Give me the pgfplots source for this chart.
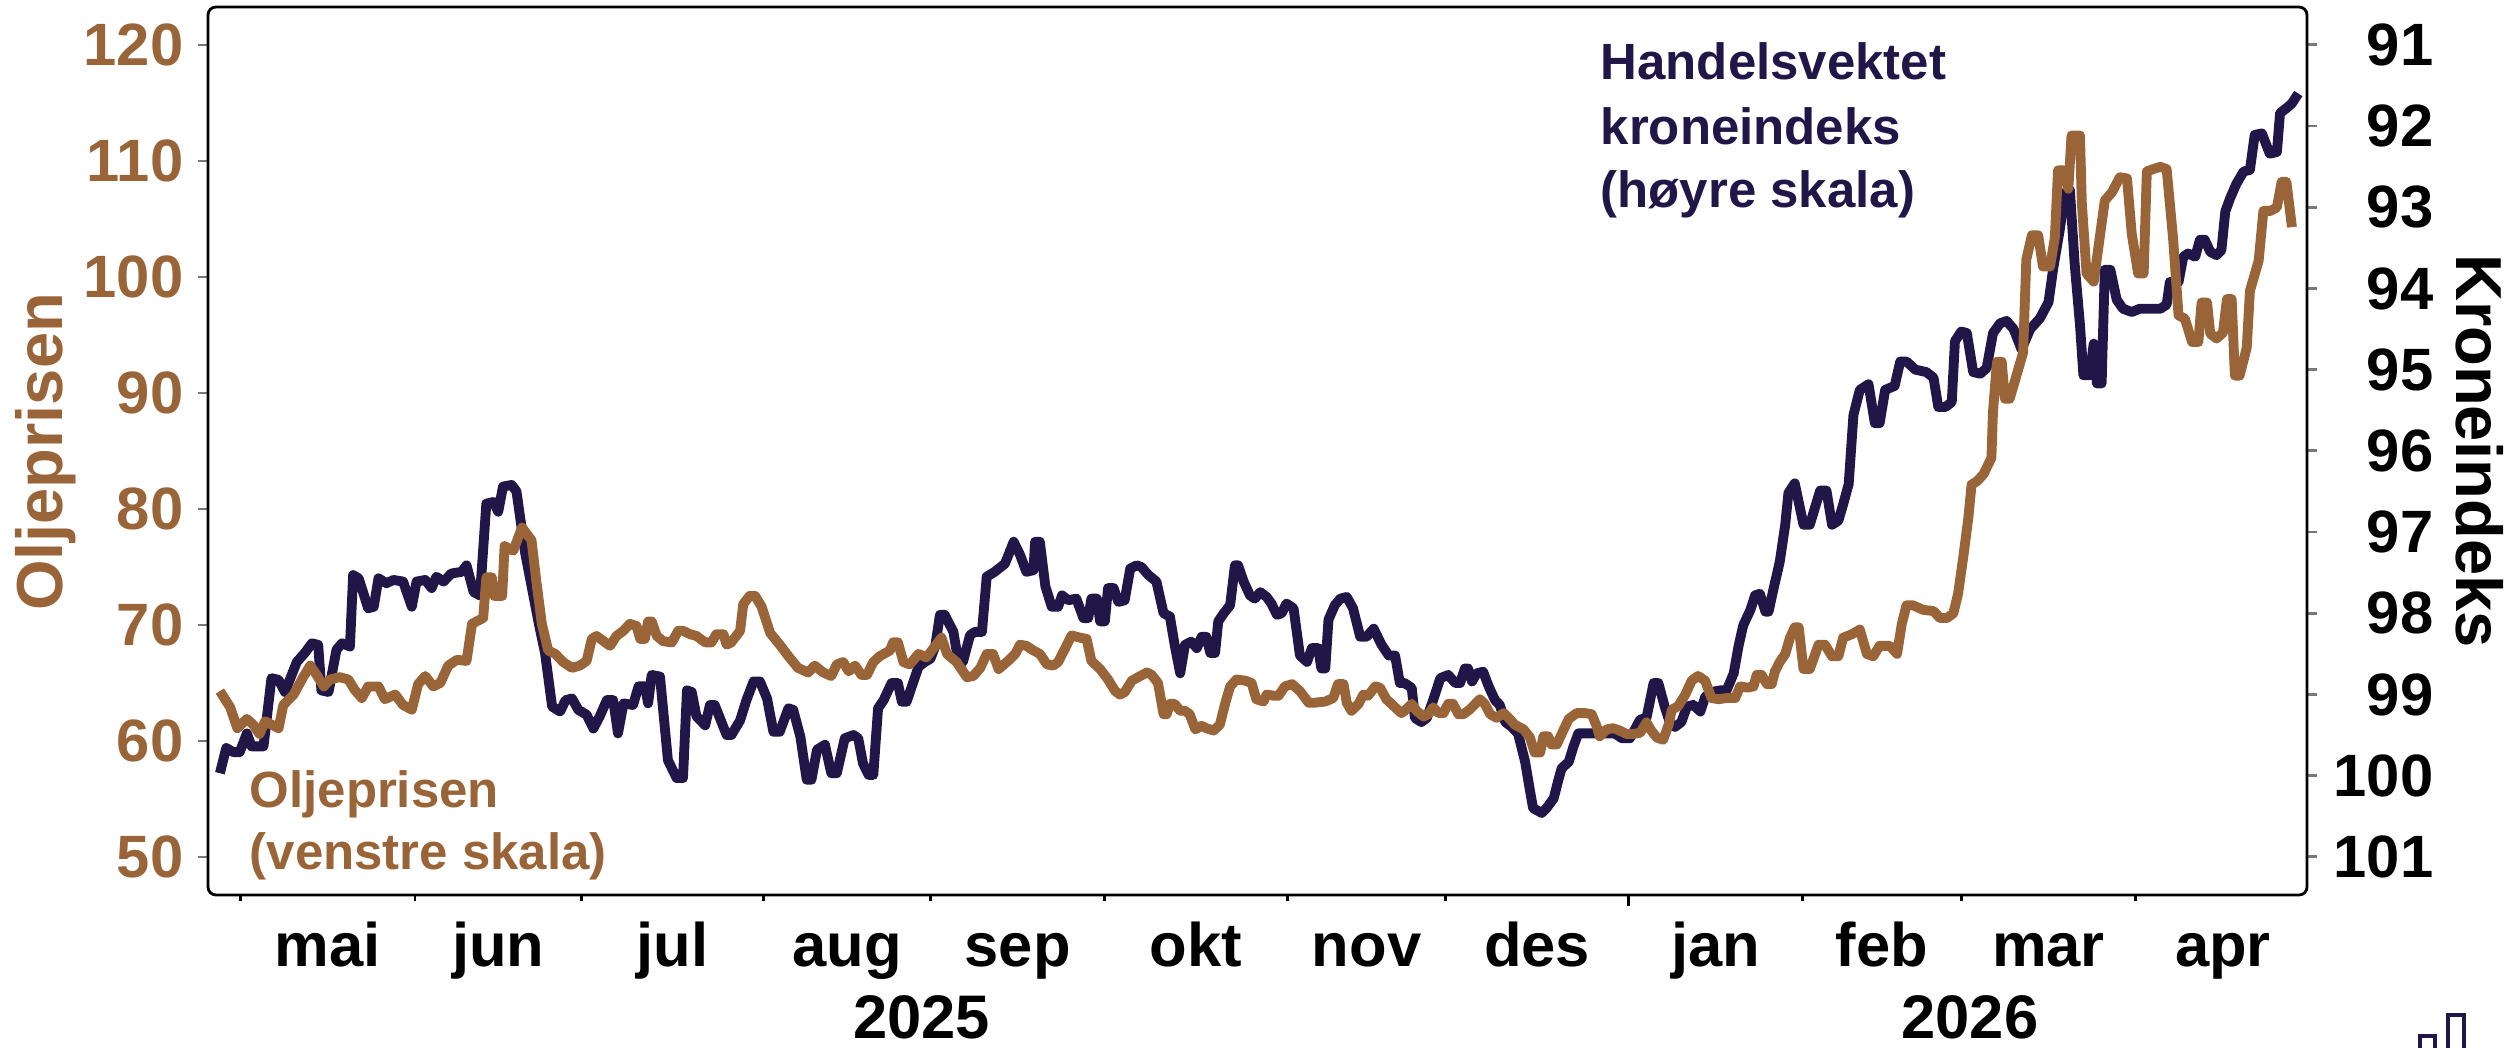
\documentclass[border=0pt]{standalone}
\usepackage{fontspec}
\setmainfont{Liberation Sans}
\usepackage{pgfplots}
\pgfplotsset{compat=1.18}
\definecolor{oil}{RGB}{153,101,56}
\definecolor{navy}{RGB}{32,22,72}
\definecolor{tickgray}{RGB}{120,120,120}
\newcommand{\tickfont}{\fontsize{17}{20}\selectfont\bfseries}
\newcommand{\monfont}{\fontsize{17.5}{21}\selectfont\bfseries}
\newcommand{\labfont}{\fontsize{18.5}{22}\selectfont\bfseries}
\newcommand{\annfont}{\fontsize{14.5}{18}\selectfont\bfseries}
\pgfplotstableread{
x y
-2.6 99.97
-1.8 99.66
-0.9 99.71
-0.1 99.71
0.8 99.48
1.4 99.64
2.9 99.64
3.9 98.80
4.8 98.82
5.6 98.97
7.1 98.60
8.1 98.49
9.0 98.37
9.8 98.39
10.2 98.95
11.1 98.97
12.1 98.45
12.8 98.37
13.8 98.41
14.2 97.53
14.9 97.57
16.1 97.94
16.8 97.92
17.4 97.57
18.4 97.63
19.3 97.59
20.5 97.61
21.6 97.92
22.2 97.61
23.3 97.59
24.1 97.69
24.7 97.55
25.6 97.61
26.6 97.51
27.9 97.49
28.5 97.41
29.4 97.74
30.2 97.78
31.0 96.65
31.9 96.63
32.5 96.75
33.1 96.44
34.2 96.42
34.8 96.50
35.9 97.26
37.6 98.12
38.4 98.49
39.3 99.15
40.3 99.21
41.0 99.07
41.8 99.05
42.6 99.19
43.65 99.25
44.5 99.42
45.3 99.27
46.2 99.07
47.0 99.07
47.6 99.48
48.3 99.11
49.5 99.13
50.2 98.90
51.0 98.90
51.4 99.11
51.85 98.76
52.9 98.78
53.9 99.81
55.0 100.03
55.8 100.03
56.3 98.95
56.9 98.97
57.5 99.27
58.6 99.38
59.2 99.13
59.8 99.13
61.3 99.50
61.9 99.50
63.0 99.32
63.8 99.07
64.7 98.84
65.5 98.84
66.4 99.05
67.2 99.46
68.0 99.46
69.1 99.17
69.7 99.19
70.6 99.52
71.4 100.05
72.0 100.05
72.7 99.68
73.7 99.62
74.5 99.97
75.2 99.97
76.2 99.54
77.3 99.50
77.9 99.54
78.5 99.85
79.2 99.99
79.8 99.99
80.4 99.17
81.1 99.07
82.1 98.86
82.9 98.86
83.4 99.09
84.0 99.09
84.8 98.86
85.5 98.66
86.3 98.60
87.0 98.56
87.6 98.41
88.2 98.02
88.8 98.02
89.9 98.23
90.5 98.58
91.1 98.60
92.0 98.27
92.6 98.23
93.5 98.23
94.1 97.55
95.1 97.49
96.4 97.39
97.5 97.12
98.3 97.28
99.1 97.49
100.0 97.47
100.2 97.12
100.8 97.12
101.5 97.67
102.3 97.92
103.1 97.92
103.6 97.78
104.4 97.84
105.4 97.82
106.3 98.06
106.9 98.06
107.3 97.82
108.0 97.82
108.4 98.10
109.0 98.10
109.4 97.69
110.1 97.69
110.7 97.86
111.5 97.84
112.2 97.45
113.0 97.41
113.6 97.43
114.5 97.53
115.5 97.61
116.4 98.00
117.2 98.04
117.8 98.39
118.5 98.74
119.1 98.39
119.9 98.35
120.6 98.43
121.2 98.29
121.8 98.29
122.3 98.49
122.9 98.49
123.3 98.10
124.0 98.00
124.8 97.90
125.4 97.41
125.8 97.41
126.5 97.61
127.3 97.78
127.9 97.82
128.6 97.74
129.4 97.80
130.0 97.88
130.7 98.02
131.3 98.00
131.9 97.88
132.8 97.94
133.6 98.52
134.5 98.60
135.1 98.43
135.9 98.43
136.3 98.68
136.8 98.68
137.2 98.08
138.0 97.90
138.7 97.82
139.5 97.80
140.3 97.94
141.2 98.29
142.0 98.29
142.9 98.19
143.9 98.39
144.8 98.52
145.6 98.52
146.2 98.86
146.8 98.86
147.7 98.92
148.1 99.29
148.9 99.34
149.6 99.29
150.4 99.07
151.3 98.80
152.3 98.76
153.2 98.86
153.8 98.86
154.4 98.68
154.8 98.68
155.3 98.84
155.9 98.74
156.7 98.72
157.4 98.90
158.2 99.07
158.8 99.13
159.5 99.34
160.3 99.40
161.1 99.48
162.0 99.83
162.6 100.18
163.0 100.40
164.1 100.46
164.7 100.40
165.6 100.28
166.2 100.05
166.6 99.91
167.5 99.83
168.1 99.64
168.7 99.48
169.8 99.48
171.4 99.48
172.5 99.48
173.3 99.48
174.2 99.54
175.2 99.54
175.9 99.42
176.5 99.31
177.3 99.29
178.2 98.86
178.8 98.86
179.6 99.15
180.3 99.36
180.9 99.40
181.7 99.34
182.4 99.15
183.2 99.13
184.1 99.21
184.7 99.03
185.5 98.97
186.6 98.95
187.4 98.95
188.3 98.74
188.9 98.41
189.5 98.15
190.4 97.96
191.0 97.78
191.6 97.76
192.3 97.98
192.7 97.98
193.3 97.71
194.1 97.37
194.8 96.91
195.2 96.52
196.0 96.40
197.1 96.91
197.9 96.91
199.2 96.49
200.0 96.49
200.7 96.91
201.5 96.86
202.1 96.66
202.8 96.41
203.4 95.56
204.2 95.25
205.3 95.18
206.1 95.66
206.7 95.66
207.4 95.25
208.6 95.20
209.3 94.90
210.1 94.90
211.2 95.00
212.6 95.03
213.5 95.10
214.1 95.46
215.0 95.46
215.8 95.40
216.2 94.65
217.0 94.53
217.7 94.55
218.5 95.03
219.4 95.05
220.2 94.98
221.0 94.55
221.9 94.43
222.7 94.40
223.6 94.50
224.6 94.75
225.7 94.50
226.9 94.37
228.0 94.17
228.6 93.75
229.4 93.29
230.1 92.82
230.7 92.79
231.3 93.70
231.97 94.45
232.4 95.07
233.2 95.07
233.7 94.68
234.1 95.17
234.7 95.17
235.1 93.77
235.8 93.77
236.6 94.14
237.4 94.25
238.5 94.29
239.5 94.25
240.8 94.25
242.1 94.25
242.9 94.20
243.3 93.92
244.4 93.92
245.0 93.61
245.6 93.57
246.5 93.61
247.1 93.40
247.7 93.40
248.4 93.55
249.2 93.59
249.8 93.53
250.3 93.05
250.9 92.89
251.7 92.71
252.6 92.56
253.4 92.54
254.0 92.11
254.9 92.09
255.9 92.34
256.8 92.32
257.2 91.84
258.0 91.78
258.7 91.72
259.5 91.60
}\kronetable
\pgfplotstableread{
x y
-2.6 64.3
-1.3 62.9
-0.4 61.1
0.8 61.9
1.6 61.4
2.4 60.6
3.1 61.7
4.8 61.1
5.4 63.1
6.7 64.0
7.9 65.5
8.8 66.5
9.6 65.7
10.5 64.7
11.3 65.3
12.5 65.5
13.6 65.3
14.4 64.4
15.3 63.7
16.1 64.7
17.4 64.7
18.2 63.6
19.5 64.0
20.5 63.1
21.6 62.7
22.4 64.9
23.3 65.6
24.3 64.7
25.2 65.0
26.2 66.5
27.3 67.0
28.5 66.9
29.2 70.1
30.6 70.6
31.0 74.1
31.7 74.1
32.0 72.5
33.0 72.5
33.3 76.8
34.4 76.4
35.5 78.4
36.7 77.3
37.3 73.8
38.0 70.1
38.8 67.8
39.7 67.5
40.7 66.8
41.8 66.3
42.8 66.5
43.65 66.9
44.3 68.8
44.9 69.05
46.6 68.2
47.4 69.05
48.3 69.5
49.1 70.1
49.95 69.9
50.4 68.8
51.0 68.8
51.4 70.3
51.85 70.3
52.5 69.05
53.3 68.6
54.4 68.5
55.2 69.5
55.8 69.5
56.7 69.2
57.5 69.05
58.6 68.5
59.4 68.5
60.0 69.2
60.9 69.2
61.3 68.3
61.9 68.5
63.0 69.5
63.4 71.8
64.2 72.5
64.9 72.5
65.7 71.6
66.8 69.3
68.0 68.3
69.1 67.3
70.3 66.3
71.6 65.9
72.4 66.5
73.5 65.9
74.5 65.6
75.2 66.6
76.0 66.8
76.7 66.0
77.5 66.5
78.3 65.7
79.0 65.7
79.8 66.8
80.6 67.3
81.9 67.8
82.3 68.5
82.9 68.5
83.6 66.8
84.4 66.6
85.5 67.5
86.5 67.2
87.4 68.0
88.4 68.9
89.1 67.5
90.3 66.8
91.6 65.5
92.4 65.6
93.3 66.3
94.1 67.5
94.9 67.5
95.6 66.2
96.8 66.9
97.7 67.5
98.3 68.3
99.1 68.2
100.0 67.8
100.8 67.5
101.7 66.6
102.5 66.5
103.1 66.8
104.0 68.0
104.8 69.1
105.9 68.9
106.7 68.8
107.3 66.9
108.4 66.2
109.4 65.3
110.3 64.3
110.9 64.0
111.5 64.2
112.4 65.2
113.2 65.5
114.3 65.9
114.9 65.7
115.7 65.0
116.4 62.3
116.8 62.3
117.2 63.2
117.8 63.2
118.5 62.6
119.1 62.6
119.7 62.3
120.4 61.0
121.2 61.3
121.8 61.1
122.7 60.9
123.5 61.4
124.2 63.3
124.8 64.7
125.6 65.3
126.7 65.2
127.5 65.0
128.1 63.6
129.0 63.4
129.4 64.0
130.3 63.9
130.9 63.9
131.7 64.7
132.6 64.9
133.6 64.3
134.7 63.3
135.5 63.3
136.8 63.4
137.8 63.7
138.4 64.9
139.1 64.9
139.5 63.3
140.1 62.6
141.0 63.2
141.6 64.0
142.2 63.9
143.1 64.7
143.7 64.6
144.5 63.6
145.6 62.9
146.4 62.4
146.8 62.6
147.7 63.2
148.3 62.6
149.2 62.1
149.8 62.3
150.4 62.9
151.1 62.4
151.7 62.4
152.3 63.2
152.9 63.2
153.6 62.3
154.2 62.3
155.0 62.7
156.3 63.6
156.9 63.2
157.6 62.3
158.4 62.0
159.3 62.4
159.9 62.0
160.7 61.4
161.8 61.0
162.6 60.3
163.2 59.0
163.9 59.0
164.3 60.4
164.9 60.4
165.3 59.7
166.0 59.7
166.8 60.9
167.5 61.9
168.5 62.4
169.6 62.4
170.4 62.3
171.0 61.3
171.4 60.4
172.3 61.0
173.1 61.1
173.9 60.9
174.8 60.6
175.6 60.6
176.5 60.7
177.3 61.6
177.9 60.9
178.6 60.3
179.4 60.1
180.1 61.4
180.5 62.7
181.3 63.0
182.2 64.0
183.0 65.2
183.8 65.6
184.7 65.2
185.5 63.7
186.4 63.6
187.4 63.7
188.5 63.7
189.1 64.7
190.0 64.6
190.8 64.7
191.2 65.7
191.8 65.7
192.5 64.9
193.1 64.9
193.5 66.0
194.1 66.8
194.8 67.5
195.4 68.9
196.0 69.8
196.5 69.8
197.1 66.2
197.9 66.2
199.0 68.3
199.8 68.3
200.7 67.3
201.5 67.3
202.1 68.9
203.2 69.2
204.2 69.6
205.1 67.5
205.9 67.3
206.7 68.2
208.0 68.2
208.9 67.5
209.5 70.1
210.1 71.7
210.9 71.7
212.2 71.3
213.5 71.2
214.3 70.6
215.2 70.6
216.0 71.0
216.6 72.7
217.3 76.1
217.9 79.3
218.3 82.1
219.0 82.4
219.8 83.0
220.8 84.4
221.0 88.4
221.5 92.7
222.1 92.7
222.5 89.5
223.1 89.5
224.0 91.6
224.8 93.5
225.2 101.5
225.9 103.6
226.7 103.6
227.3 100.9
228.2 100.9
228.8 103.4
229.2 109.2
229.9 109.2
230.5 107.6
230.9 112.2
231.97 112.2
232.2 106.4
232.8 100.3
233.7 99.6
234.3 102.6
235.1 106.6
236.0 107.3
237.0 108.6
237.9 108.5
238.5 103.7
239.3 100.3
240.0 100.3
240.4 109.1
241.2 109.3
242.1 109.5
242.9 109.3
243.7 103.4
244.4 96.7
245.2 96.4
246.1 94.4
246.9 94.4
247.3 97.8
248.0 97.8
248.4 95.1
249.2 94.7
250.0 95.2
250.5 98.1
251.1 98.1
251.5 91.5
252.1 91.5
253.0 93.9
253.4 98.8
254.5 101.4
255.1 105.7
256.0 105.7
256.8 106.0
257.4 108.2
258.0 108.2
258.7 104.3
}\oiltable
\begin{document}
\begin{tikzpicture}
\pgfplotsset{
  common/.style={scale only axis, width=20.99cm, height=8.88cm, at={(0,0)}, anchor=south west,
    xmin=-4.1, xmax=260.6, axis line style={draw=none}, tick align=outside,
    /pgf/number format/assume math mode=true},
}
% right axis: kroneindeks (reversed)
\begin{axis}[common, ymin=90.534, ymax=101.47, y dir=reverse,
  axis x line=none, axis y line*=right,
  ytick={91,92,93,94,95,96,97,98,99,100,101},
  yticklabels={91,92,93,94,95,96,97,98,99,100,101},
  major tick length=0.1cm,
  ytick style={draw=tickgray, line width=0.8pt},
  yticklabel style={font=\tickfont, text=black, anchor=east, inner sep=0pt},
  yticklabel shift=1.17cm]
\addplot[navy, line width=2.8pt, line join=round, no marks] table[x=x,y=y] {\kronetable};
\end{axis}
% left axis: oil price
\begin{axis}[common, ymin=46.72, ymax=123.28,
  axis x line=none, axis y line*=left,
  ytick={50,60,70,80,90,100,110,120},
  yticklabels={50,60,70,80,90,100,110,120},
  major tick length=0.1cm,
  ytick style={draw=tickgray, line width=0.8pt},
  yticklabel style={font=\tickfont, text=oil, anchor=east, inner sep=0pt},
  yticklabel shift=0.14cm]
\addplot[oil, line width=2.8pt, line join=round, no marks] table[x=x,y=y] {\oiltable};
\end{axis}
% x axis ticks and labels
\begin{axis}[common, ymin=0, ymax=1, clip=false,
  axis y line=none, axis x line*=bottom,
  xtick={0,22,43,66,87,109,132,152,197,217,239},
  xticklabels={},
  major tick length=0.06cm,
  xtick style={draw=black, line width=0.8pt},
  extra x ticks={175}, extra x tick labels={},
  extra x tick style={major tick length=0.11cm}]
\node[anchor=base, font=\monfont, yshift=-0.72cm] at (axis cs:11,0) {mai};
\node[anchor=base, font=\monfont, yshift=-0.72cm] at (axis cs:32.5,0) {jun};
\node[anchor=base, font=\monfont, yshift=-0.72cm] at (axis cs:54.5,0) {jul};
\node[anchor=base, font=\monfont, yshift=-0.72cm] at (axis cs:76.5,0) {aug};
\node[anchor=base, font=\monfont, yshift=-0.72cm] at (axis cs:98,0) {sep};
\node[anchor=base, font=\monfont, yshift=-0.72cm] at (axis cs:120.5,0) {okt};
\node[anchor=base, font=\monfont, yshift=-0.72cm] at (axis cs:142,0) {nov};
\node[anchor=base, font=\monfont, yshift=-0.72cm] at (axis cs:163.5,0) {des};
\node[anchor=base, font=\monfont, yshift=-0.72cm] at (axis cs:186,0) {jan};
\node[anchor=base, font=\monfont, yshift=-0.72cm] at (axis cs:207,0) {feb};
\node[anchor=base, font=\monfont, yshift=-0.72cm] at (axis cs:228,0) {mar};
\node[anchor=base, font=\monfont, yshift=-0.72cm] at (axis cs:250,0) {apr};
\node[anchor=base, font=\monfont, yshift=-1.44cm] at (axis cs:85.9,0) {2025};
\node[anchor=base, font=\monfont, yshift=-1.44cm] at (axis cs:218.1,0) {2026};
\end{axis}
% frame
\draw[black, line width=0.8pt, rounded corners=0.08cm] (0,0) rectangle (20.99cm,8.88cm);
% axis titles
\node[rotate=90, font=\labfont, text=oil, inner sep=0pt] at (-1.62cm,4.43cm) {Oljeprisen};
\node[rotate=-90, font=\labfont, text=black, inner sep=0pt] at (22.72cm,4.44cm) {Kroneindeks};
% annotations
\node[anchor=base west, font=\annfont, text=navy, inner sep=0pt] at (13.92cm,8.15cm) {Handelsvektet};
\node[anchor=base west, font=\annfont, text=navy, inner sep=0pt] at (13.92cm,7.50cm) {kroneindeks};
\node[anchor=base west, font=\annfont, text=navy, inner sep=0pt] at (13.92cm,6.87cm) {(høyre skala)};
\node[anchor=base west, font=\annfont, text=oil, inner sep=0pt] at (0.41cm,0.87cm) {Oljeprisen};
\node[anchor=base west, font=\annfont, text=oil, inner sep=0pt] at (0.41cm,0.25cm) {(venstre skala)};
% logo
\draw[navy, line width=0.04cm] (22.12cm,-1.60cm) -- (22.12cm,-1.41cm) -- (22.27cm,-1.41cm) -- (22.27cm,-1.60cm);
\draw[navy, line width=0.04cm] (22.40cm,-1.60cm) -- (22.40cm,-1.20cm) -- (22.56cm,-1.20cm) -- (22.56cm,-1.60cm);
\pgfresetboundingbox
\path[use as bounding box] (-2.08cm,-1.53cm) rectangle (23.06cm,8.95cm);
\end{tikzpicture}
\end{document}
